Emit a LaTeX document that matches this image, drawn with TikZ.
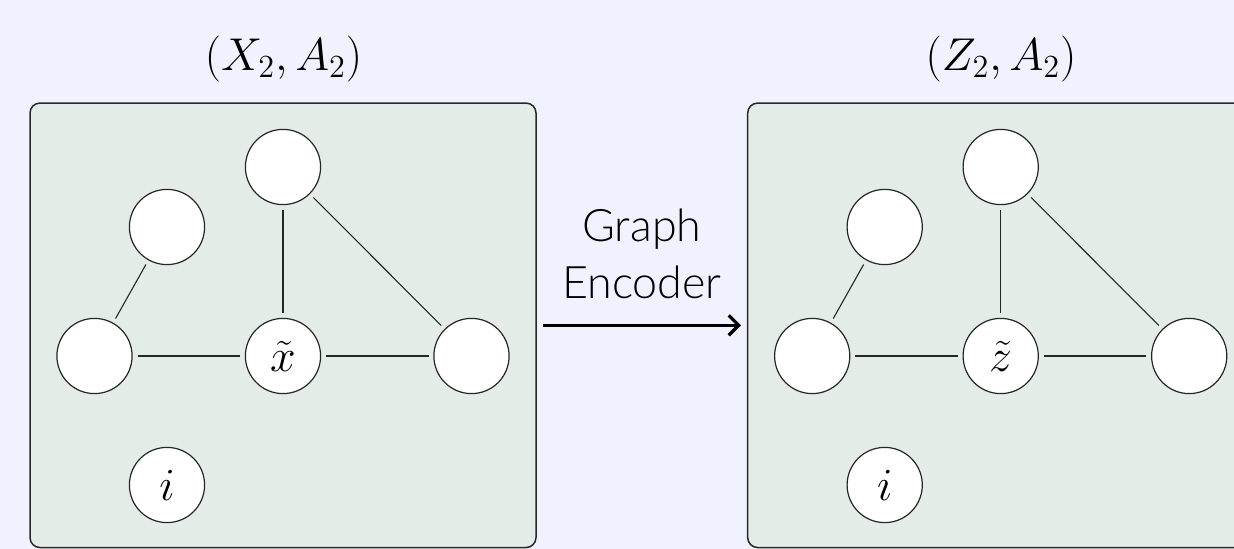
\RequirePackage{fix-cm}
\documentclass[tikz,border=0pt]{standalone}
\usepackage{fontspec}
\usetikzlibrary{arrows.meta}
\IfFontExistsTF{Lato Light}{\newfontfamily\encfont{Lato Light}}{\newfontfamily\encfont{Lato}}
\definecolor{bgcol}{RGB}{240,243,255}
\definecolor{panelcol}{RGB}{227,236,231}
\definecolor{bordercol}{RGB}{40,40,40}
\tikzset{
  panel/.style={draw=bordercol, line width=0.75pt, fill=panelcol, rounded corners=5pt,
    minimum width=253pt, minimum height=222.25pt, inner sep=0pt},
  vertex/.style={circle, draw=black!85, fill=white, line width=0.6pt, minimum size=37.6pt,
    inner sep=0pt, font=\fontsize{23}{28}\selectfont},
  gedge/.style={draw=black!85, line width=0.55pt, shorten <=2.4pt, shorten >=2.4pt},
  title/.style={anchor=base, font=\fontsize{23}{28}\selectfont, inner sep=0pt},
  encarrow/.style={line width=1.6pt, shorten <=3pt, shorten >=3pt,
    -{Straight Barb[length=5pt,width=10pt,line width=1.6pt]}},
  enclabel/.style={align=center, font=\encfont\fontsize{22.4}{28.5}\selectfont, inner sep=0pt}
}
\begin{document}
\begin{tikzpicture}[x=0.5pt,y=-0.5pt]
\path[use as bounding box, fill=bgcol] (0,0) rectangle (1234,549);
\clip (0,0) rectangle (1234,549);
% titles
\node[title] (t1) at (283.5,70.5) {$(X_2, A_2)$};
\node[title] (t2) at (1001,70.5) {$(Z_2, A_2)$};
% panels
\node[panel] (lpanel) at (283,325.3) {};
\node[panel] (rpanel) at (1000.7,325.3) {};
% left graph
\node[vertex] (ltop) at (283,167) {};
\node[vertex] (lul) at (167,227) {};
\node[vertex] (lleft) at (94.5,356) {};
\node[vertex] (lx) at (283,356) {$\tilde{x}$};
\node[vertex] (lright) at (471.5,356) {};
\node[vertex] (li) at (167,485) {$i$};
\draw[gedge] (lul) -- (lleft);
\draw[gedge] (lleft) -- (lx);
\draw[gedge] (lx) -- (lright);
\draw[gedge] (ltop) -- (lx);
\draw[gedge] (ltop) -- (lright);
% right graph
\node[vertex] (rtop) at (1000.7,167) {};
\node[vertex] (rul) at (884.7,227) {};
\node[vertex] (rleft) at (812.2,356) {};
\node[vertex] (rz) at (1000.7,356) {$\tilde{z}$};
\node[vertex] (rright) at (1189.2,356) {};
\node[vertex] (ri) at (884.7,485) {$i$};
\draw[gedge] (rul) -- (rleft);
\draw[gedge] (rleft) -- (rz);
\draw[gedge] (rz) -- (rright);
\draw[gedge] (rtop) -- (rz);
\draw[gedge] (rtop) -- (rright);
% encoder arrow
\draw[encarrow] (lpanel.east) -- node[enclabel, above=12.5pt] (enc) {Graph\\Encoder} (rpanel.west);
\end{tikzpicture}
\end{document}
